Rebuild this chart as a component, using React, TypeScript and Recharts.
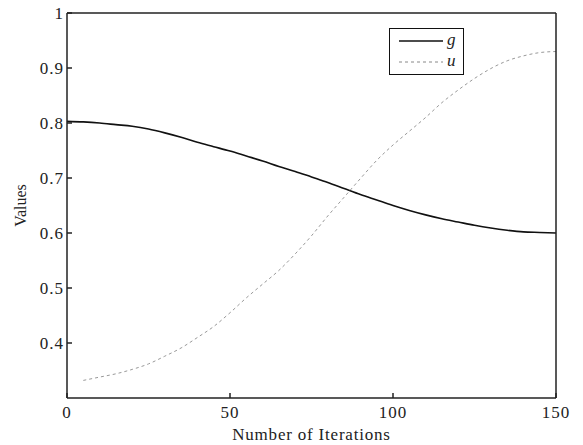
import { LineChart, Line, XAxis, YAxis } from 'recharts'

const iterations = [0, 5, 10, 15, 20, 25, 30, 35, 40, 45, 50, 55, 60, 65, 70, 75, 80, 85, 90, 95, 100, 105, 110, 115, 120, 125, 130, 135, 140, 145, 150]
const gValues = [0.803, 0.802, 0.8, 0.797, 0.794, 0.789, 0.782, 0.774, 0.765, 0.757, 0.749, 0.74, 0.731, 0.721, 0.712, 0.702, 0.692, 0.681, 0.67, 0.66, 0.65, 0.641, 0.633, 0.626, 0.62, 0.614, 0.609, 0.605, 0.602, 0.601, 0.6]
const uValues = [null, 0.332, 0.338, 0.344, 0.352, 0.362, 0.376, 0.391, 0.41, 0.43, 0.455, 0.482, 0.507, 0.532, 0.562, 0.595, 0.631, 0.665, 0.699, 0.732, 0.76, 0.785, 0.81, 0.837, 0.86, 0.881, 0.899, 0.913, 0.922, 0.928, 0.93]
const xTicks = [0, 50, 100, 150]
const yTicks = [0.4, 0.5, 0.6, 0.7, 0.8, 0.9, 1]

const data = iterations.map((it, i) => ({ it, g: gValues[i], u: uValues[i] }))

const FONT = '"Liberation Serif", "Times New Roman", serif'
const AXIS = '#222'
const tickStyle = { fontSize: 17, fill: '#222', fontFamily: FONT, letterSpacing: 1 }

function YLabel({ viewBox }: any) {
  const cy = viewBox.y + viewBox.height / 2
  return (
    <text
      x={26}
      y={cy}
      transform={`rotate(-90, 26, ${cy})`}
      textAnchor="middle"
      fontSize={16}
      fontFamily={FONT}
      fill="#222"
    >
      Values
    </text>
  )
}

function LegendBox() {
  return (
    <div
      style={{
        position: 'absolute',
        left: 389,
        top: 28,
        width: 75,
        height: 47,
        boxSizing: 'border-box',
        border: '1.5px solid #111',
        background: '#fff',
      }}
    >
      <svg width={72} height={44} style={{ position: 'absolute', left: 0, top: 0 }}>
        <line x1={9} y1={12} x2={53} y2={12} stroke="#111" strokeWidth={1.3} />
        <line x1={9} y1={33} x2={53} y2={33} stroke="#888" strokeWidth={1} strokeDasharray="3 3" />
        <text x={57} y={16} fontSize={17} fontStyle="italic" fontFamily={FONT} fill="#222">g</text>
        <text x={57} y={37} fontSize={17} fontStyle="italic" fontFamily={FONT} fill="#222">u</text>
      </svg>
    </div>
  )
}

export default function App() {
  return (
    <div style={{ position: 'absolute', left: 0, top: 0, width: 583, height: 445, background: '#fff' }}>
      <LineChart width={583} height={445} data={data} margin={{ top: 0, right: 0, bottom: 0, left: 0 }}>
        <XAxis
          dataKey="it"
          type="number"
          domain={[0, 150]}
          ticks={xTicks}
          height={47}
          tickSize={-5}
          tickMargin={13}
          stroke={AXIS}
          strokeWidth={1.5}
          tick={tickStyle}
          label={{ value: 'Number of Iterations', position: 'insideBottom', offset: 5, fontSize: 17, fontFamily: FONT, fill: '#222', letterSpacing: 0.8 }}
        />
        <XAxis
          xAxisId="top"
          orientation="top"
          dataKey="it"
          type="number"
          domain={[0, 150]}
          ticks={xTicks}
          height={13}
          tickSize={-5}
          tick={false}
          stroke={AXIS}
          strokeWidth={1.5}
        />
        <YAxis
          type="number"
          domain={[0.3, 1]}
          ticks={yTicks}
          width={67}
          tickSize={-5}
          tickMargin={8}
          stroke={AXIS}
          strokeWidth={1.5}
          tick={tickStyle}
          tickFormatter={(v: number) => (v === 1 ? '1' : v.toFixed(1))}
          label={<YLabel />}
        />
        <YAxis
          yAxisId="right"
          orientation="right"
          type="number"
          domain={[0.3, 1]}
          ticks={yTicks}
          width={27}
          tickSize={-5}
          tick={false}
          stroke={AXIS}
          strokeWidth={1.5}
        />
        <Line
          type="monotone"
          dataKey="g"
          stroke="#111"
          strokeWidth={1.6}
          dot={false}
          isAnimationActive={false}
        />
        <Line
          type="monotone"
          dataKey="u"
          stroke="#999"
          strokeWidth={1}
          strokeDasharray="3 3"
          dot={false}
          connectNulls={false}
          isAnimationActive={false}
        />
      </LineChart>
      <LegendBox />
    </div>
  )
}
